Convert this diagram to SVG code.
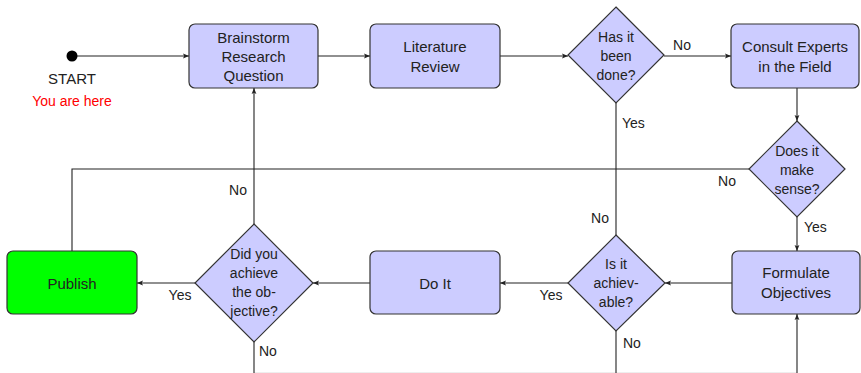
<svg xmlns="http://www.w3.org/2000/svg" width="861" height="373" viewBox="0 0 861 373">
<style>
text{font-family:"Liberation Sans",Arial,sans-serif;fill:#222;dominant-baseline:central;text-anchor:middle}
.box{fill:#ccccff;stroke:#333;stroke-width:1.2}
.pub{fill:#00ff00;stroke:#333;stroke-width:1.2}
.bt{font-size:15px}
.dt{font-size:14px}
.lb{font-size:14px}
.lbl{font-size:14px;text-anchor:start}
.c{fill:none;stroke:#222;stroke-width:1.1}
</style>
<defs>
<marker id="ah" viewBox="0 0 10 10" refX="10" refY="5" markerWidth="6" markerHeight="6" markerUnits="userSpaceOnUse" orient="auto">
<path d="M0,1 L10,5 L0,9 L2,5 Z" fill="#222"/>
</marker>
</defs>
<rect x="0" y="0" width="861" height="373" fill="#fff"/>
<line x1="254" y1="372.5" x2="797" y2="372.5" stroke="#eeeeee" stroke-width="1"/>
<g id="connectors">
<line class="c" x1="72" y1="56" x2="189" y2="56" marker-end="url(#ah)"/>
<line class="c" x1="318" y1="56" x2="370" y2="56" marker-end="url(#ah)"/>
<line class="c" x1="500" y1="56" x2="568" y2="56" marker-end="url(#ah)"/>
<line class="c" x1="664" y1="56" x2="731" y2="56" marker-end="url(#ah)"/>
<line class="c" x1="797" y1="88" x2="797" y2="121" marker-end="url(#ah)"/>
<line class="c" x1="797" y1="217" x2="797" y2="251" marker-end="url(#ah)"/>
<polyline class="c" points="749,169 72,169 72,251"/>
<line class="c" x1="616" y1="103" x2="616" y2="235"/>
<line class="c" x1="732" y1="283" x2="665" y2="283" marker-end="url(#ah)"/>
<line class="c" x1="568" y1="283" x2="500" y2="283" marker-end="url(#ah)"/>
<line class="c" x1="370" y1="283" x2="313" y2="283" marker-end="url(#ah)"/>
<line class="c" x1="195" y1="283" x2="137" y2="283" marker-end="url(#ah)"/>
<line class="c" x1="254" y1="224" x2="254" y2="88" marker-end="url(#ah)"/>
<line class="c" x1="254" y1="341" x2="254" y2="373"/>
<line class="c" x1="616" y1="331" x2="616" y2="373"/>
<line class="c" x1="797" y1="373" x2="797" y2="314" marker-end="url(#ah)"/>
<text class="lb" x="682" y="45">No</text>
<text class="lbl" x="622" y="123">Yes</text>
<text class="lb" x="727" y="181">No</text>
<text class="lbl" x="804" y="227">Yes</text>
<text class="lb" x="238" y="190">No</text>
<text class="lb" x="180" y="295">Yes</text>
<text class="lbl" x="259" y="351">No</text>
<text class="lb" x="551" y="295">Yes</text>
<text class="lb" x="600" y="218">No</text>
<text class="lbl" x="623" y="343">No</text>
</g>
<g id="start">
<circle cx="72" cy="56" r="5.5" fill="#000"/>
<text x="72" y="78" style="font-size:15px">START</text>
<text x="72" y="101" style="font-size:14px;fill:#ff0000">You are here</text>
</g>
<g id="brainstorm">
<rect class="box" x="189" y="24" width="129" height="64" rx="6"/>
<text class="bt" x="253.5" y="37">Brainstorm</text>
<text class="bt" x="253.5" y="56">Research</text>
<text class="bt" x="253.5" y="75">Question</text>
</g>
<g id="literature">
<rect class="box" x="370" y="24" width="130" height="64" rx="6"/>
<text class="bt" x="435" y="46">Literature</text>
<text class="bt" x="435" y="66">Review</text>
</g>
<g id="done">
<polygon class="box" points="616,7 664,55 616,103 568,55"/>
<text class="dt" x="616" y="37">Has it</text>
<text class="dt" x="616" y="56">been</text>
<text class="dt" x="616" y="75">done?</text>
</g>
<g id="consult">
<rect class="box" x="731" y="24" width="128" height="64" rx="6"/>
<text class="bt" x="795" y="46">Consult Experts</text>
<text class="bt" x="795" y="66">in the Field</text>
</g>
<g id="sense">
<polygon class="box" points="797,121 845,169 797,217 749,169"/>
<text class="dt" x="797" y="151">Does it</text>
<text class="dt" x="797" y="170">make</text>
<text class="dt" x="797" y="189">sense?</text>
</g>
<g id="formulate">
<rect class="box" x="732" y="251" width="128" height="63" rx="6"/>
<text class="bt" x="796" y="272">Formulate</text>
<text class="bt" x="796" y="292">Objectives</text>
</g>
<g id="achievable">
<polygon class="box" points="616,235 665,283 616,331 568,283"/>
<text class="dt" x="616" y="264">Is it</text>
<text class="dt" x="616" y="283">achiev-</text>
<text class="dt" x="616" y="302">able?</text>
</g>
<g id="doit">
<rect class="box" x="370" y="251" width="130" height="63" rx="6"/>
<text class="bt" x="435" y="283">Do It</text>
</g>
<g id="achieved">
<polygon class="box" points="254,224 313,283 254,342 195,283"/>
<text class="dt" x="254" y="254">Did you</text>
<text class="dt" x="254" y="273">achieve</text>
<text class="dt" x="254" y="292">the ob-</text>
<text class="dt" x="254" y="311">jective?</text>
</g>
<g id="publish">
<rect class="pub" x="7" y="251" width="130" height="63" rx="6"/>
<text class="bt" x="72" y="283">Publish</text>
</g>
</svg>
